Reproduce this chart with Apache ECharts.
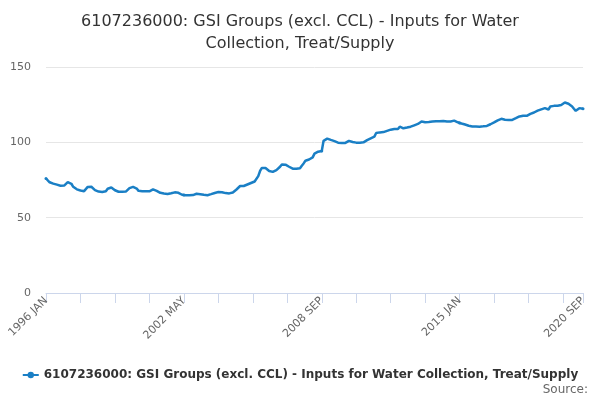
<!DOCTYPE html>
<html>
<head>
<meta charset="utf-8">
<script src="https://cdn.jsdelivr.net/npm/echarts@6/dist/echarts.min.js"></script>
<style>html,body{margin:0;padding:0;background:#fff}#c{width:600px;height:400px}</style>
</head>
<body>
<div id="c"></div>
<script>
var titleText = "6107236000: GSI Groups (excl. CCL) - Inputs for Water\nCollection, Treat/Supply";
var seriesName = "6107236000: GSI Groups (excl. CCL) - Inputs for Water Collection, Treat/Supply";
var monthNames = ["JAN","FEB","MAR","APR","MAY","JUN","JUL","AUG","SEP","OCT","NOV","DEC"];
var startYear = 1996;
var yTicks = [0, 50, 100, 150];

var v1996 = [76.0, 75.4, 73.5, 72.8, 72.6, 72.3, 71.9, 71.6, 71.2, 71.0, 71.3, 72.3];
var v1997 = [73.6, 74.2, 72.5, 70.5, 69.5, 68.8, 68.3, 68.0, 68.0, 67.6, 68.8, 70.4];
var v1998 = [71.0, 70.5, 69.3, 68.3, 67.8, 67.3, 67.2, 67.0, 66.8, 67.5, 69.2, 69.8];
var v1999 = [70.0, 69.2, 68.2, 67.6, 67.2, 67.0, 67.2, 67.3, 67.3, 68.2, 69.6, 70.2];
var v2000 = [70.4, 70.0, 69.3, 67.8, 67.5, 67.6, 67.5, 67.6, 67.8, 67.5, 68.5, 68.8];
var v2001 = [68.7, 67.8, 66.8, 66.5, 66.2, 66.0, 65.9, 65.7, 65.6, 66.2, 66.7, 66.8];
var v2002 = [66.7, 66.5, 65.6, 65.2, 65.0, 64.9, 64.9, 64.8, 64.9, 65.0, 65.5, 65.9];
var v2003 = [66.0, 65.6, 65.5, 65.2, 65.0, 64.9, 65.2, 65.6, 66.0, 66.4, 66.8, 67.0];
var v2004 = [67.1, 66.9, 66.7, 66.3, 66.0, 66.1, 66.3, 66.7, 67.5, 68.7, 70.0, 71.0];
var v2005 = [71.2, 71.0, 71.4, 72.0, 72.3, 73.0, 73.5, 74.0, 74.2, 77.6, 81.0, 83.0];
var v2006 = [83.3, 83.0, 82.2, 81.0, 80.6, 80.4, 81.0, 81.6, 81.0, 83.8, 85.3, 85.6];
var v2007 = [85.2, 84.5, 83.8, 82.7, 82.5, 82.6, 82.5, 82.7, 82.8, 84.5, 86.0, 87.8];
var v2008 = [88.4, 88.6, 88.7, 90.0, 92.5, 93.3, 93.8, 94.0, 94.3, 101.0, 102.2, 102.5];
var v2009 = [102.0, 101.6, 101.2, 100.8, 100.4, 99.8, 99.3, 99.5, 100.2, 99.6, 100.6, 101.0];
var v2010 = [100.5, 100.2, 100.0, 99.8, 99.7, 99.8, 99.8, 100.0, 100.4, 101.5, 102.0, 102.7];
var v2011 = [103.0, 103.8, 106.2, 106.4, 106.6, 106.7, 106.8, 107.0, 107.6, 108.2, 108.4, 108.6];
var v2012 = [108.9, 109.0, 108.8, 110.4, 109.6, 109.3, 109.5, 109.8, 110.0, 110.4, 111.0, 111.3];
var v2013 = [111.8, 112.2, 113.0, 113.8, 113.5, 113.3, 113.3, 113.5, 113.6, 113.8, 113.9, 114.0];
var v2014 = [114.2, 114.0, 114.2, 114.2, 114.0, 113.8, 113.6, 113.8, 114.1, 114.4, 114.0, 113.3];
var v2015 = [112.9, 112.5, 112.2, 111.8, 111.3, 111.0, 110.8, 110.5, 110.4, 110.5, 110.3, 110.4];
var v2016 = [110.5, 110.6, 110.8, 110.9, 111.4, 112.0, 112.5, 113.2, 113.8, 114.6, 115.2, 115.6];
var v2017 = [115.4, 115.0, 114.9, 114.8, 114.9, 114.9, 115.4, 116.0, 116.4, 117.2, 117.8, 117.7];
var v2018 = [117.5, 117.6, 118.4, 118.9, 119.3, 119.8, 120.2, 121.0, 121.6, 121.9, 122.3, 122.7];
var v2019 = [123.2, 121.8, 123.8, 124.4, 124.2, 124.4, 124.3, 124.4, 124.8, 125.8, 126.4, 126.0];
var v2020 = [125.6, 124.8, 123.8, 122.3, 120.9, 122.0, 122.7, 122.2, 122.3];

var values = [].concat(v1996, v1997, v1998, v1999, v2000, v2001, v2002, v2003, v2004, v2005,
  v2006, v2007, v2008, v2009, v2010, v2011, v2012, v2013, v2014, v2015, v2016, v2017, v2018, v2019, v2020);

var categories = [];
for (var k = 0; k < values.length; k++) {
  categories.push((startYear + Math.floor(k / 12)) + " " + monthNames[k % 12]);
}
var lastIdx = categories.length - 1;

var chart = echarts.init(document.getElementById('c'));
chart.setOption({
  animation: false,
  backgroundColor: '#ffffff',
  title: {
    text: titleText,
    left: 'center',
    top: 6,
    textStyle: { fontFamily: 'DejaVu Sans', fontSize: 16, fontWeight: 'normal', color: '#333333', lineHeight: 22 }
  },
  grid: { left: 46, right: 17, top: 67, bottom: 107, containLabel: false },
  legend: {
    bottom: 14,
    left: 'center',
    itemWidth: 16,
    itemHeight: 8,
    itemGap: 5,
    textStyle: { fontFamily: 'DejaVu Sans', fontSize: 12, fontWeight: 'bold', color: '#333333' },
    data: [seriesName]
  },
  graphic: [{
    type: 'text',
    right: 12,
    bottom: 4,
    style: { text: 'Source:', fontFamily: 'DejaVu Sans', fontSize: 12, fill: '#666666' }
  }],
  xAxis: {
    type: 'category',
    data: categories,
    boundaryGap: false,
    axisLine: { lineStyle: { color: '#ccd6eb' } },
    axisTick: { length: 10, lineStyle: { color: '#ccd6eb' },
      interval: function (i) { return i % 19 === 0 || i === lastIdx; } },
    axisLabel: { rotate: 45, fontFamily: 'DejaVu Sans', fontSize: 11, color: '#666666', margin: 6,
      interval: function (i) { return i % 76 === 0 || i === lastIdx; } },
    splitLine: { show: false }
  },
  yAxis: {
    type: 'value',
    min: yTicks[0],
    max: yTicks[yTicks.length - 1],
    interval: 50,
    axisLine: { show: false },
    axisTick: { show: false },
    axisLabel: { fontFamily: 'DejaVu Sans', fontSize: 11, color: '#666666', margin: 15 },
    splitLine: { lineStyle: { color: '#e6e6e6' } }
  },
  series: [{
    name: seriesName,
    type: 'line',
    data: values,
    color: '#1a7fc5',
    symbol: 'circle',
    symbolSize: 3,
    showSymbol: true,
    lineStyle: { width: 2.5, color: '#1a7fc5' },
    itemStyle: { color: '#1a7fc5' }
  }]
});
</script>
</body>
</html>
